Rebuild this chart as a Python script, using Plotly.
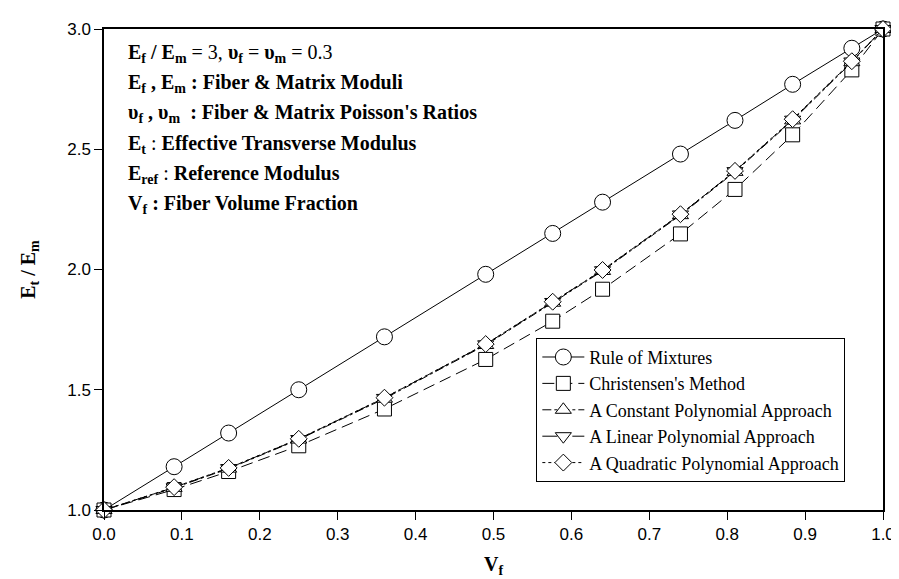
import plotly.graph_objects as go

# ---- data ----
vf = [0.0, 0.09, 0.16, 0.25, 0.36, 0.49, 0.576, 0.64, 0.74, 0.81, 0.884, 0.96, 1.0]
rule_of_mixtures = [1.0, 1.18, 1.32, 1.50, 1.72, 1.98, 2.15, 2.28, 2.48, 2.62, 2.77, 2.92, 3.0]
christensen = [1.0, 1.085, 1.16, 1.267, 1.42, 1.626, 1.785, 1.918, 2.148, 2.333, 2.56, 2.83, 3.0]
constant_poly = [1.0, 1.092, 1.172, 1.293, 1.463, 1.686, 1.862, 1.994, 2.226, 2.406, 2.62, 2.862, 3.0]
linear_poly = [1.0, 1.094, 1.174, 1.295, 1.466, 1.689, 1.865, 1.997, 2.229, 2.409, 2.623, 2.865, 3.0]
quadratic_poly = [1.0, 1.095, 1.175, 1.296, 1.467, 1.690, 1.866, 1.998, 2.230, 2.410, 2.625, 2.866, 3.0]

series_names = ["Rule of Mixtures", "Christensen's Method", "A Constant Polynomial Approach",
                "A Linear Polynomial Approach", "A Quadratic Polynomial Approach"]

x_ticks = [0.0, 0.1, 0.2, 0.3, 0.4, 0.5, 0.6, 0.7, 0.8, 0.9, 1.0]
y_ticks = [1.0, 1.5, 2.0, 2.5, 3.0]

note_lines = [
    "<b>E<sub>f</sub> / E<sub>m</sub></b> = 3, <b>υ<sub>f</sub></b> = <b>υ<sub>m</sub></b> = 0.3",
    "<b>E<sub>f</sub> , E<sub>m</sub> : Fiber &amp; Matrix Moduli</b>",
    "<b>υ<sub>f</sub> , υ<sub>m</sub>  : Fiber &amp; Matrix Poisson's Ratios</b>",
    "<b>E<sub>t</sub></b> : <b>Effective Transverse Modulus</b>",
    "<b>E<sub>ref</sub></b> : <b>Reference Modulus</b>",
    "<b>V<sub>f</sub> : Fiber Volume Fraction</b>",
]

SERIF = "Liberation Serif, Times New Roman, serif"
SANS = "Liberation Sans, Arial, sans-serif"

series = [rule_of_mixtures, christensen, constant_poly, linear_poly, quadratic_poly]
symbols = ["circle", "square", "triangle-up", "triangle-down", "diamond"]
sizes = [16, 14, 14, 14, 13]
dashes = ["solid", "12px,6px", "dashdot", "longdashdot", "dot"]

fig = go.Figure()
for name, ys, sym, sz, dsh in zip(series_names, series, symbols, sizes, dashes):
    fig.add_trace(go.Scatter(
        x=vf, y=ys, name=name, mode="lines+markers", cliponaxis=False,
        line=dict(color="black", width=1, dash=dsh),
        marker=dict(symbol=sym, size=sz, color="white", line=dict(color="black", width=1)),
    ))

W, H = 899, 579
ml, mr, mt, mb = 96, 12, 16, 77
ph = H - mt - mb
for i, t in enumerate(note_lines):
    yc = 41 + i * 30.4
    fig.add_annotation(
        xref="paper", yref="paper", x=(118 - ml) / (W - ml - mr), y=(H - mb - yc) / ph,
        xanchor="left", yanchor="middle", showarrow=False, align="left",
        text=t, font=dict(family=SERIF, size=20, color="black"),
    )

fig.update_layout(
    width=W, height=H,
    margin=dict(l=ml, r=mr, t=mt, b=mb),
    paper_bgcolor="white", plot_bgcolor="white",
    showlegend=True,
    legend=dict(
        x=(535 - ml) / (W - ml - mr), y=(H - mb - 328) / ph, xanchor="left", yanchor="top",
        bgcolor="white", bordercolor="black", borderwidth=1,
        font=dict(family=SERIF, size=18, color="black"),
        tracegroupgap=0, itemwidth=42,
    ),
    xaxis=dict(
        range=[0, 1], tickvals=x_ticks, ticktext=[f"{v:.1f}" for v in x_ticks],
        showgrid=False, zeroline=False, showline=True, linecolor="black", linewidth=1.5,
        mirror=True, ticks="outside", ticklen=8, tickcolor="black",
        tickfont=dict(family=SANS, size=17, color="black"),
        title=dict(text="<b>V<sub>f</sub></b>", font=dict(family=SERIF, size=20, color="black"), standoff=14),
    ),
    yaxis=dict(
        range=[1, 3], tickvals=y_ticks, ticktext=[f"{v:.1f}" for v in y_ticks],
        showgrid=False, zeroline=False, showline=True, linecolor="black", linewidth=1.5,
        mirror=True, ticks="outside", ticklen=8, tickcolor="black",
        tickfont=dict(family=SANS, size=17, color="black"),
        title=dict(text="<b>E<sub>t</sub> / E<sub>m</sub></b>", font=dict(family=SERIF, size=20, color="black"), standoff=26),
    ),
)

fig.write_html("out.html")
